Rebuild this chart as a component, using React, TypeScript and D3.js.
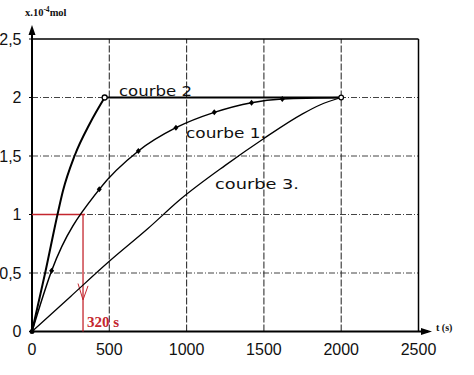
import React from "react";
import * as d3 from "d3";

const xTicks = [0, 500, 1000, 1500, 2000, 2500];
const yTicks = [0, 0.5, 1, 1.5, 2, 2.5];
const yTickLabels = ["0", "0,5", "1", "1,5", "2", "2,5"];

// courbe 1 (with markers)
const c1T = [0, 127, 435, 688, 931, 1179, 1420, 1619, 2000];
const c1V = [0, 0.52, 1.215, 1.543, 1.742, 1.873, 1.956, 1.987, 2.0];
// courbe 2 rise then plateau
const c2T = [0, 85, 170, 200, 275, 375, 470];
const c2V = [0, 0.5, 1.03, 1.2, 1.5, 1.78, 2.0];
const c2PlateauT = [470, 2000];
const c2PlateauV = [2, 2];
// courbe 3
const c3T = [0, 250, 500, 750, 960, 1250, 1500, 1750, 1862, 2000];
const c3V = [0, 0.3, 0.6, 0.88, 1.13, 1.42, 1.65, 1.86, 1.936, 2.0];

const halfT = 330;
const halfV = 1;
const halfLabel = "320 s";

export default function App() {
  const W = 474, H = 375;
  const x = d3.scaleLinear().domain([0, 2500]).range([32, 418.5]);
  const y = d3.scaleLinear().domain([0, 2.5]).range([331.5, 39]);
  const mono = d3.line<[number, number]>().x(d => x(d[0])).y(d => y(d[1])).curve(d3.curveMonotoneX);
  const lin = d3.line<[number, number]>().x(d => x(d[0])).y(d => y(d[1]));
  const c1 = c1T.map((t, i) => [t, c1V[i]] as [number, number]);
  const c2 = c2T.map((t, i) => [t, c2V[i]] as [number, number]);
  const c2p = c2PlateauT.map((t, i) => [t, c2PlateauV[i]] as [number, number]);
  const c3 = c3T.map((t, i) => [t, c3V[i]] as [number, number]);
  const red = "#c4262e";
  const hand = "'DejaVu Sans', sans-serif";
  const ax = x(halfT);
  return (
    <svg width={W} height={H} style={{ position: "absolute", left: 0, top: 0, background: "#fff" }}>
      <rect width={W} height={H} fill="#fff" />
      {/* grid */}
      {yTicks.slice(1, 5).map(v => (
        <line key={"h" + v} x1={x(0)} x2={x(2500)} y1={y(v)} y2={y(v)} stroke="#444" strokeWidth={1} strokeDasharray="6,2,1,2" />
      ))}
      {xTicks.slice(1, 5).map(t => (
        <line key={"v" + t} x1={x(t)} x2={x(t)} y1={y(0)} y2={y(2.5)} stroke="#333" strokeWidth={1.1} strokeDasharray="7,2" />
      ))}
      {/* border */}
      <line x1={x(0)} x2={x(2500)} y1={y(2.5)} y2={y(2.5)} stroke="#000" strokeWidth={1.5} />
      <line x1={x(2500)} x2={x(2500)} y1={y(2.5)} y2={y(0)} stroke="#000" strokeWidth={1.5} />
      {/* axes */}
      <line x1={x(0)} x2={x(0)} y1={y(0) + 1} y2={28} stroke="#000" strokeWidth={2} />
      <path d={`M${x(0)},25 L${x(0) - 3.5},35 L${x(0) + 3.5},35 Z`} fill="#000" />
      <line x1={x(0)} x2={428} y1={y(0)} y2={y(0)} stroke="#000" strokeWidth={1.8} />
      <path d={`M432,${y(0)} L421,${y(0) - 3.5} L421,${y(0) + 3.5} Z`} fill="#000" />
      {yTicks.map(v => (
        <line key={"yt" + v} x1={x(0) - 3} x2={x(0)} y1={y(v)} y2={y(v)} stroke="#000" strokeWidth={1} />
      ))}
      {/* tick labels */}
      {yTicks.map((v, i) => (
        <text key={"yl" + v} x={21.5} y={y(v)} dy="0.36em" textAnchor="end" fontFamily="'Liberation Sans', Arial, sans-serif" fontSize={16} fill="#111">{yTickLabels[i]}</text>
      ))}
      {xTicks.map(t => (
        <text key={"xl" + t} x={x(t)} y={355} textAnchor="middle" fontFamily="'Liberation Sans', Arial, sans-serif" fontSize={16} fill="#111">{t}</text>
      ))}
      <text x={25} y={16} fontFamily="'Liberation Serif', serif" fontWeight="bold" fontSize={10.5} fill="#111">x.10<tspan dy={-4} fontSize={7.5}>-4</tspan><tspan dy={4}>mol</tspan></text>
      <text x={436} y={331} fontFamily="'Liberation Serif', serif" fontWeight="bold" fontSize={10} fill="#111">t (s)</text>
      {/* red annotation */}
      <line x1={x(0)} x2={ax + 2} y1={y(halfV)} y2={y(halfV)} stroke={red} strokeWidth={1.3} />
      <line x1={ax} x2={ax} y1={y(halfV)} y2={y(0)} stroke={red} strokeWidth={1.3} />
      <path d={`M${ax - 5},${y(0.41)} L${ax},${y(0.27)} L${ax + 5},${y(0.39)}`} fill="none" stroke={red} strokeWidth={1} />
      <text x={ax + 4} y={327} fontFamily="'Liberation Serif', serif" fontWeight="bold" fontSize={15} fill={red}>{halfLabel}</text>
      {/* curves */}
      <path d={mono(c3) || ""} fill="none" stroke="#000" strokeWidth={1.3} />
      <path d={mono(c1) || ""} fill="none" stroke="#000" strokeWidth={1.5} />
      <path d={mono(c2) || ""} fill="none" stroke="#000" strokeWidth={2} />
      <path d={lin(c2p) || ""} fill="none" stroke="#000" strokeWidth={2} />
      {c1.slice(1, 8).map((d, i) => (
        <path key={"m" + i} d={`M${x(d[0])},${y(d[1]) - 3} L${x(d[0]) + 2.5},${y(d[1])} L${x(d[0])},${y(d[1]) + 3} L${x(d[0]) - 2.5},${y(d[1])} Z`} fill="#000" />
      ))}
      <circle cx={x(c2T[c2T.length - 1])} cy={y(2)} r={2.5} fill="#fff" stroke="#000" strokeWidth={1.3} />
      <circle cx={x(2000)} cy={y(2)} r={2.3} fill="#fff" stroke="#000" strokeWidth={1.2} />
      <circle cx={x(0)} cy={y(0)} r={2.5} fill="#000" />
      {/* handwritten labels */}
      <text x={119} y={96} textLength={73} lengthAdjust="spacingAndGlyphs" fontFamily={hand} fontSize={14} fill="#111">courbe 2</text>
      <text x={186} y={138} textLength={80} lengthAdjust="spacingAndGlyphs" fontFamily={hand} fontSize={14} fill="#111">courbe 1.</text>
      <text x={215} y={189} textLength={84} lengthAdjust="spacingAndGlyphs" fontFamily={hand} fontSize={14} fill="#111">courbe 3.</text>
    </svg>
  );
}
